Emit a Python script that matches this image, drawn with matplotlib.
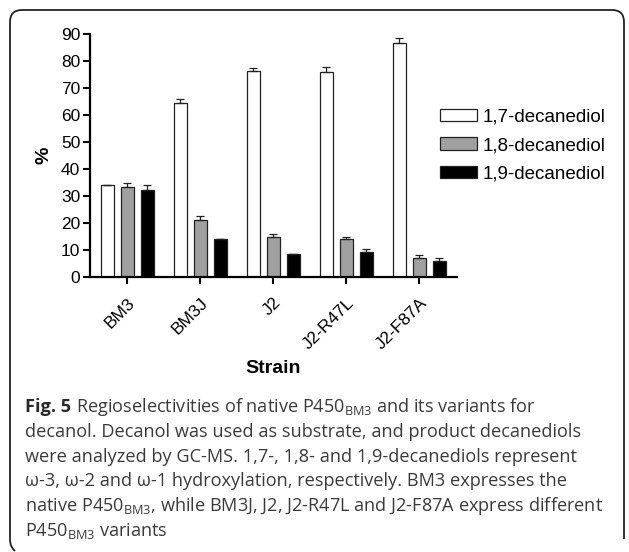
import matplotlib
matplotlib.use("Agg")
import matplotlib.pyplot as plt
import numpy as np
from matplotlib.path import Path
from matplotlib.patches import PathPatch
from matplotlib.transforms import IdentityTransform

categories = ['BM3', 'BM3J', 'J2', 'J2-R47L', 'J2-F87A']
series_names = ['1,7-decanediol', '1,8-decanediol', '1,9-decanediol']
d17 = [34.0, 64.4, 76.2, 76.0, 86.6]
e17 = [0.2, 1.5, 1.1, 1.7, 1.8]
d18 = [33.4, 21.2, 14.9, 14.2, 7.1]
e18 = [1.5, 1.3, 1.1, 0.8, 0.9]
d19 = [32.3, 14.0, 8.5, 9.4, 5.9]
e19 = [1.6, 0.2, 0.2, 0.9, 1.0]
yticks = list(range(0, 91, 10))

caption_head = "Fig. 5"
caption_lines = [
    r"Regioselectivities of native P450$_{\mathrm{BM3}}$ and its variants for",
    "decanol. Decanol was used as substrate, and product decanediols",
    "were analyzed by GC-MS. 1,7-, 1,8- and 1,9-decanediols represent",
    "\u03c9-3, \u03c9-2 and \u03c9-1 hydroxylation, respectively. BM3 expresses the",
    r"native P450$_{\mathrm{BM3}}$, while BM3J, J2, J2-R47L and J2-F87A express different",
    r"P450$_{\mathrm{BM3}}$ variants",
]

W, H = 629, 552
DPI = 100
plt.rcParams['font.family'] = ['Liberation Sans', 'DejaVu Sans']
plt.rcParams['mathtext.fontset'] = 'custom'
plt.rcParams['mathtext.rm'] = 'Open Sans'
plt.rcParams['mathtext.bf'] = 'Open Sans:bold'
plt.rcParams['mathtext.it'] = 'Open Sans:italic'

fig = plt.figure(figsize=(W / DPI, H / DPI), dpi=DPI)
ax = fig.add_axes([90 / W, 1 - 277 / H, (457 - 90) / W, (277 - 34) / H])

x = np.arange(len(categories))
off = 0.274
bw = 0.178
data = [(d17, e17, 'white'), (d18, e18, '#a0a0a0'), (d19, e19, 'black')]
handles = []
for i, (vals, errs, col) in enumerate(data):
    pos = x + (i - 1) * off
    b = ax.bar(pos, vals, bw, color=col, edgecolor='#222222', linewidth=0.9,
               label=series_names[i], zorder=2)
    handles.append(b)
    ax.errorbar(pos, vals, yerr=[np.zeros(len(vals)), errs], fmt='none',
                ecolor='#222222', elinewidth=0.9, capsize=3, capthick=0.9, zorder=3)

ax.set_xlim(-0.507, 4.52)
ax.set_ylim(0, 90)
ax.set_yticks(yticks)
ax.set_xticks(x)
ax.set_xticklabels(categories, rotation=45, ha='right', rotation_mode='anchor')
ax.tick_params(axis='y', labelsize=12.5, width=1.5, length=5, direction='out', pad=2)
ax.tick_params(axis='x', labelsize=12.5, width=1.5, length=5, direction='out', pad=8)
for s in ['top', 'right']:
    ax.spines[s].set_visible(False)
for s in ['left', 'bottom']:
    ax.spines[s].set_linewidth(1.6)
ax.set_ylabel('%', fontsize=14, fontweight='bold', labelpad=6)
ax.set_xlabel('Strain', fontsize=14, fontweight='bold', labelpad=6)

leg = fig.legend(handles=handles, labels=series_names, loc='upper left',
                 bbox_to_anchor=(432 / W, 1 - 101 / H), frameon=False,
                 fontsize=13.5, handlelength=2.0, handleheight=0.65,
                 handletextpad=0.3, labelspacing=0.62, borderaxespad=0)

# caption: fit the widest line to the caption width
cap_left, cap_right = 25, 603
cap_fam = ['Open Sans', 'DejaVu Sans']
renderer = fig.canvas.get_renderer()
fs = 12.0
probe = fig.text(0, 0, caption_lines[4], fontsize=fs, family=cap_fam)
wpx = probe.get_window_extent(renderer).width
probe.remove()
fs = fs * (cap_right - cap_left) / wpx

head = fig.text(cap_left / W, 1 - 412 / H, caption_head, fontsize=fs,
                family=cap_fam, fontweight='bold', color='#2a2a2a',
                ha='left', va='baseline')
hw = head.get_window_extent(renderer).width
space = fs * DPI / 72 * 0.26
for i, line in enumerate(caption_lines):
    xx = cap_left + (hw + space if i == 0 else 0)
    fig.text(xx / W, 1 - (412 + i * 24.8) / H, line, fontsize=fs,
             family=cap_fam, color='#3a3a3a', ha='left', va='baseline')

# rounded frame
r = 12
x0, x1 = 10, 624
ytop = H - 10
ybot = 1
verts = [(x0, ybot + r), (x0, ytop - r), (x0, ytop), (x0 + r, ytop),
         (x1 - r, ytop), (x1, ytop), (x1, ytop - r), (x1, ybot + r)]
codes = [Path.MOVETO, Path.LINETO, Path.CURVE3, Path.CURVE3,
         Path.LINETO, Path.CURVE3, Path.CURVE3, Path.LINETO]
fig.add_artist(PathPatch(Path(verts, codes), transform=IdentityTransform(),
                         fill=False, edgecolor='#222222', linewidth=1.3))
verts2 = [(x0, ybot + r), (x0, ybot + 4), (x0 + 5, ybot)]
codes2 = [Path.MOVETO, Path.CURVE3, Path.CURVE3]
fig.add_artist(PathPatch(Path(verts2, codes2), transform=IdentityTransform(),
                         fill=False, edgecolor='#222222', linewidth=1.3))

fig.savefig('out.png', dpi=DPI)
